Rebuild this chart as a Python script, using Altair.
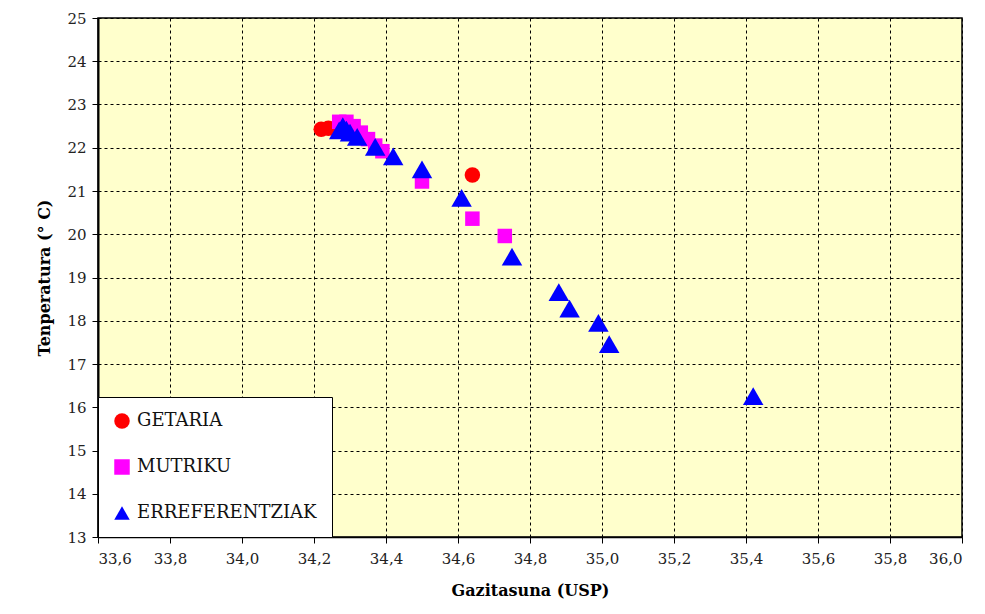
import altair as alt
import pandas as pd

getaria_x = [34.22, 34.24, 34.26, 34.64]
getaria_y = [22.43, 22.45, 22.44, 21.37]

mutriku_x = [34.27, 34.29, 34.31, 34.33, 34.35, 34.37, 34.39, 34.50, 34.64, 34.73]
mutriku_y = [22.60, 22.60, 22.50, 22.35, 22.20, 22.05, 21.92, 21.22, 20.36, 19.96]

erref_x = [34.27, 34.28, 34.29, 34.30, 34.32, 34.37, 34.42, 34.50, 34.61, 34.75, 34.88, 34.91, 34.99, 35.02, 35.42]
erref_y = [22.40, 22.50, 22.42, 22.35, 22.25, 22.02, 21.80, 21.50, 20.84, 19.48, 18.66, 18.28, 17.95, 17.46, 16.26]

series = ["GETARIA", "MUTRIKU", "ERREFERENTZIAK"]

rows = []
for i, (xs, ys) in enumerate([(getaria_x, getaria_y), (mutriku_x, mutriku_y), (erref_x, erref_y)]):
    for x, y in zip(xs, ys):
        rows.append({"Gazitasuna": x, "Tenperatura": y, "Serie": series[i]})
df = pd.DataFrame(rows)

font = "DejaVu Serif"

x_enc = alt.X("Gazitasuna:Q",
              scale=alt.Scale(domain=[33.6, 36.0], nice=False, zero=False),
              axis=alt.Axis(title="Gazitasuna (USP)", values=[33.6 + 0.2 * i for i in range(13)],
                            labelExpr="replace(format(datum.value, '.1f'), '.', ',')",
                            labelFont=font, labelFontSize=15, labelColor="#222",
                            titleFont=font, titleFontSize=16, titleFontWeight="bold",
                            titlePadding=16, labelPadding=8,
                            grid=True, gridColor="black", gridDash=[3, 3], gridWidth=1,
                            domainColor="black", domainWidth=1.5,
                            tickColor="black", tickSize=6))
y_enc = alt.Y("Tenperatura:Q",
              scale=alt.Scale(domain=[13, 25], nice=False, zero=False),
              axis=alt.Axis(title="Tenperatura (° C)", values=list(range(13, 26)),
                            labelFont=font, labelFontSize=15, labelColor="#222",
                            titleFont=font, titleFontSize=16, titleFontWeight="bold",
                            titlePadding=14, labelPadding=6,
                            grid=True, gridColor="black", gridDash=[3, 3], gridWidth=1,
                            domainColor="black", domainWidth=2,
                            tickColor="black", tickSize=6))
color_enc = alt.Color("Serie:N", scale=alt.Scale(domain=series, range=["#FF0000", "#FF00FF", "#0000FF"]),
                      legend=alt.Legend(title=None, orient="none", legendX=0, legendY=379,
                                        fillColor="white", strokeColor="black",
                                        padding=15, rowPadding=28, labelFont=font,
                                        labelFontSize=18, labelColor="#111", symbolSize=240,
                                        labelOffset=6,
                                        labelLimit=300, symbolStrokeWidth=0))
shape_enc = alt.Shape("Serie:N", scale=alt.Scale(domain=series, range=["circle", "square", "triangle-up"]))

base = alt.Chart(df).encode(x=x_enc, y=y_enc, color=color_enc, shape=shape_enc)

sizes = [240, 210, 420]
layers = [
    base.mark_point(filled=True, opacity=1, strokeWidth=0, size=s).transform_filter(
        alt.datum.Serie == name)
    for name, s in zip(series, sizes)
]

chart = alt.layer(*layers).properties(
    width=864, height=519,
    background="white",
    autosize=alt.AutoSizeParams(type="none"),
    padding={"left": 90, "top": 10, "right": 15, "bottom": 80},
).configure_view(
    fill="#FFFFCC", stroke="black", strokeWidth=1.5
)

chart.save("out.html", embed_options={"renderer": "svg", "actions": False})
